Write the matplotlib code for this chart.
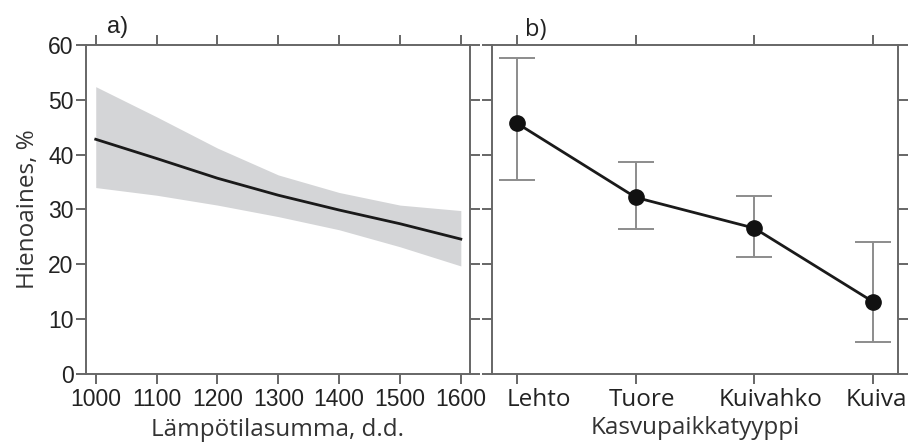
import numpy as np
import matplotlib.pyplot as plt
from matplotlib.transforms import ScaledTranslation

# panel a: fitted curve with confidence band
temp_sum = [1000, 1100, 1200, 1300, 1400, 1500, 1600]
fit = [42.8, 39.3, 35.7, 32.6, 29.9, 27.4, 24.6]
upper = [52.4, 46.9, 41.2, 36.3, 33.1, 30.8, 29.8]
lower = [34.0, 32.6, 30.8, 28.7, 26.3, 23.2, 19.7]

# panel b: site types
site_types = ['Lehto', 'Tuore', 'Kuivahko', 'Kuiva']
site_mean = [45.7, 32.2, 26.6, 13.2]
site_hi = [57.7, 38.6, 32.5, 24.1]
site_lo = [35.3, 26.4, 21.4, 5.8]

plt.rcParams['font.family'] = ['Liberation Sans', 'DejaVu Sans']
spine_col = '#666666'
human = ['Open Sans', 'DejaVu Sans']

fig = plt.figure(figsize=(9.12, 4.44), dpi=100)
ax1 = fig.add_axes([0.0943, 0.1577, 0.421, 0.741])
ax2 = fig.add_axes([0.5398, 0.1577, 0.4445, 0.741])


def style_axes(ax):
    for s in ax.spines.values():
        s.set_color(spine_col)
        s.set_linewidth(1.4)
    ax.tick_params(direction='out', length=7, width=1.4, color=spine_col,
                   top=True, right=True, labelcolor='#222222', pad=3)
    ax.tick_params(axis='y', labelsize=16.5, pad=2)
    ax.tick_params(axis='x', labelsize=16.5)
    ax.set_ylim(0, 60)
    ax.set_yticks(range(0, 61, 10))


# a)
style_axes(ax1)
ax1.fill_between(temp_sum, lower, upper, color='#d4d5d7', lw=0)
ax1.plot(temp_sum, fit, color='#1a1a1a', lw=2)
ax1.set_xlim(984, 1615)
ax1.set_xticks(temp_sum)
ax1.set_xlabel('Lämpötilasumma, d.d.', fontsize=17.5, family=human,
               color='#333333', labelpad=5)
ax1.set_ylabel('Hienoaines, %', fontsize=17.5, family=human,
               color='#333333', labelpad=6)
ax1.text(0.055, 1.02, 'a)', transform=ax1.transAxes, fontsize=17,
         color='#222222', va='bottom')

# b)
style_axes(ax2)
x = np.arange(len(site_types))
mean = np.array(site_mean)
yerr = [mean - np.array(site_lo), np.array(site_hi) - mean]
ax2.errorbar(x, mean, yerr=yerr, fmt='none', ecolor='#8c8c8c',
             elinewidth=1.4, capsize=13, capthick=1.4)
ax2.plot(x, mean, color='#1a1a1a', lw=2, marker='o', markersize=11,
         markerfacecolor='#111111', markeredgecolor='#111111')
ax2.set_xlim(-0.21, 3.21)
ax2.set_xticks(x)
ax2.set_xticklabels(site_types, family=human, fontsize=17.5)
# labels sit a bit right of their ticks in the original
shifts = [22, 6, 16, 4]
for lab, dx in zip(ax2.get_xticklabels(), shifts):
    lab.set_transform(lab.get_transform() +
                      ScaledTranslation(dx / 100, 0, fig.dpi_scale_trans))
ax2.tick_params(labelleft=False)
ax2.set_xlabel('Kasvupaikkatyyppi', fontsize=17.5, family=human,
               color='#333333', labelpad=3)
ax2.text(0.08, 1.01, 'b)', transform=ax2.transAxes, fontsize=17,
         family=human, color='#222222', va='bottom')

fig.savefig('out.png', dpi=100)
